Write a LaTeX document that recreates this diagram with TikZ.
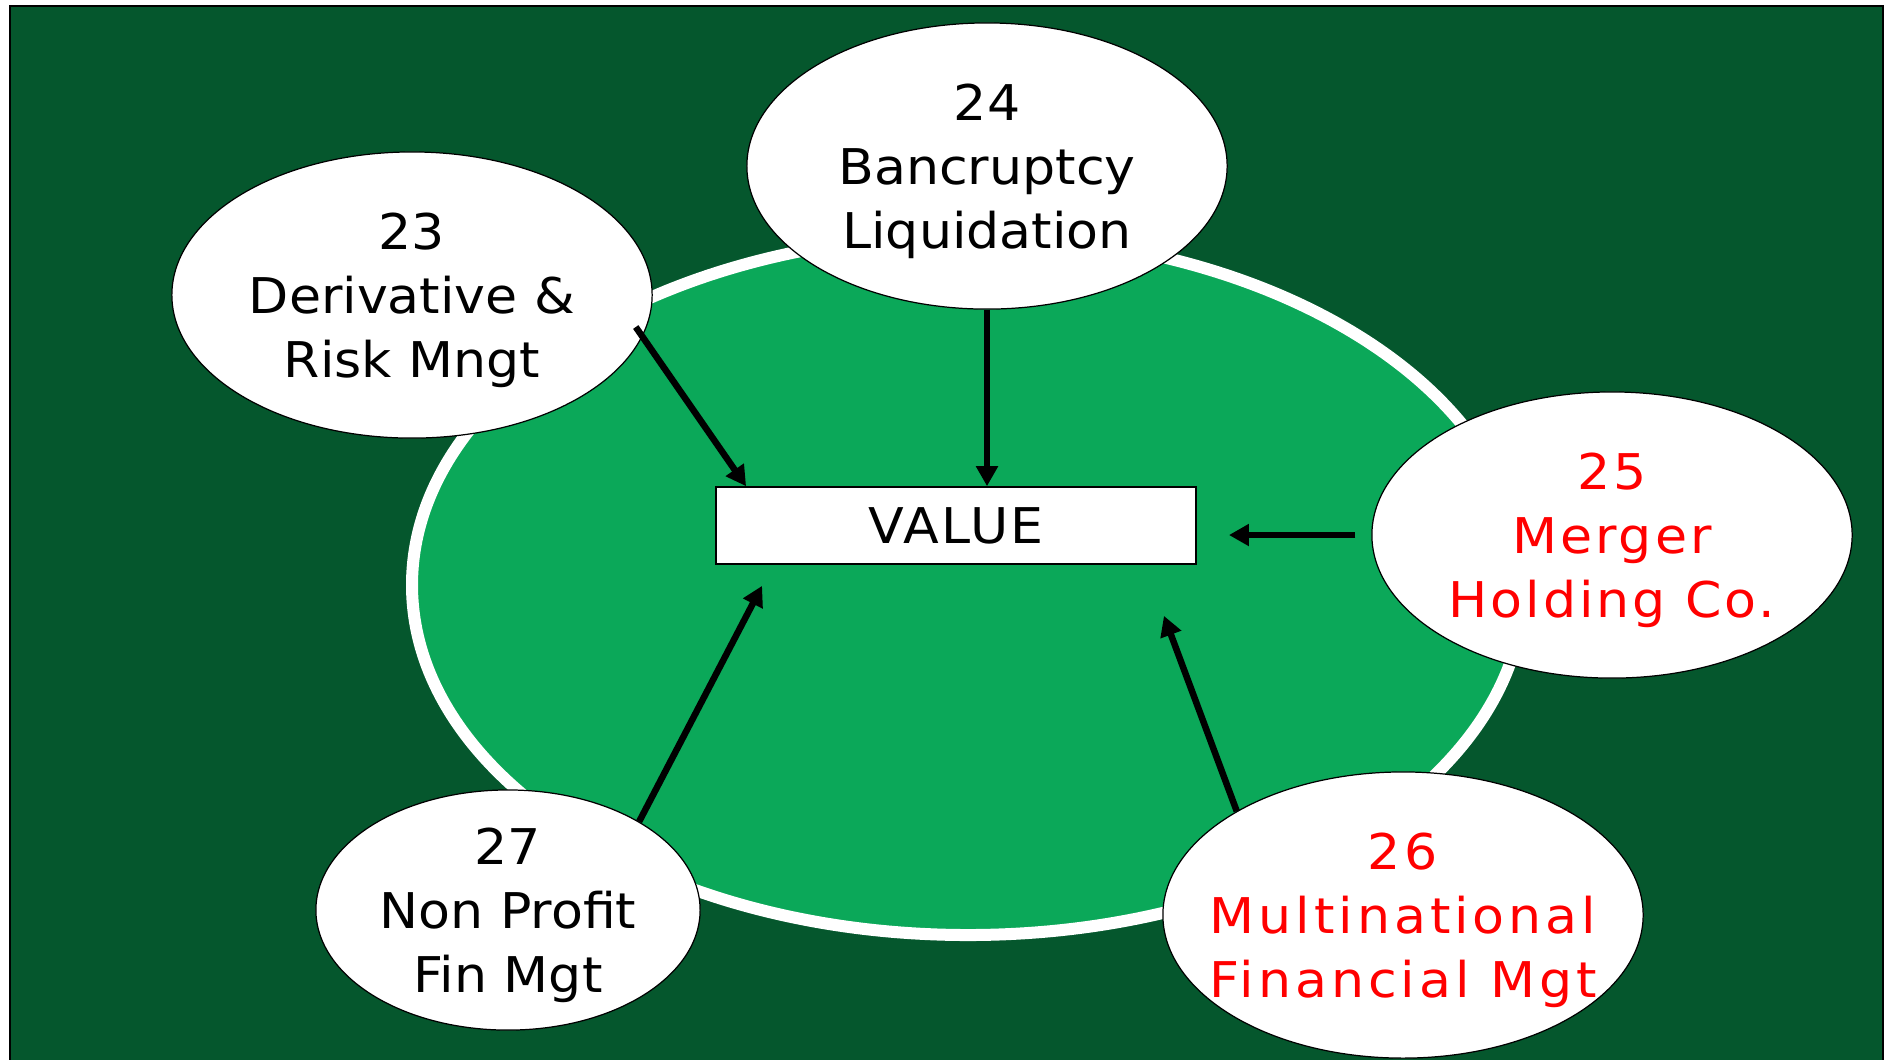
\documentclass[tikz,border=0pt]{standalone}
\usepackage{fontspec}
\setmainfont{DejaVu Sans}[FakeStretch=1.06]
\usetikzlibrary{shapes, arrows.meta}
\definecolor{darkbg}{RGB}{5,87,45}
\definecolor{lightbg}{RGB}{11,168,89}
\tikzset{
  topic/.style={draw, ellipse, fill=white, line width=0.35pt, inner xsep=-0.3cm, inner ysep=-0.1cm, align=center, text depth=-0.6pt, minimum width=4.8cm, minimum height=2.86cm, font=\fontsize{14pt}{18.2pt}\selectfont},
  newtopic/.style={topic, text=red, font=\fontsize{14pt}{18.2pt}\selectfont\addfontfeatures{LetterSpace=6}},
  arr/.style={-{Triangle[length=0.2cm,width=0.21cm]}, line width=0.065cm}
}
\begin{document}
\begin{tikzpicture}[x=0.01cm, y=-0.01cm]
\useasboundingbox (0,0) rectangle (1886,1059);
% Background
\draw[fill=darkbg] (10,6) rectangle (1883,1070);
\draw[fill=lightbg, draw=white, line width=0.12cm] (968,585) ellipse [x radius=556, y radius=350];
% Value box
\node[draw, fill=white, line width=0.45pt, minimum width=4.8cm, minimum height=0.77cm, inner sep=0, font=\fontsize{14pt}{18.2pt}\selectfont\addfontfeatures{LetterSpace=5}] (value) at (956,525.5) {VALUE};
% Topics
\node[topic] (n23) at (412,295) {23\\Derivative \&\\Risk Mngt};
\node[topic] (n24) at (987,166) {24\\Bancruptcy\\Liquidation};
\node[newtopic] (n25) at (1612,535) {25\\Merger\\Holding Co.};
\node[newtopic, font=\fontsize{14pt}{18.2pt}\selectfont\addfontfeatures{LetterSpace=8}] (n26) at (1403,915) {26\\Multinational\\Financial Mgt};
\node[topic, minimum width=3.84cm, minimum height=2.4cm] (n27) at (508,910) {27\\Non Profit\\Fin Mgt};
% Arrows
\draw[arr] ([shift={(-17,32)}]n23.east) -- ([shift={(31,0)}]value.north west);
\draw[arr] (n24.south) -- (n24.south |- value.north);
\draw[arr, shorten <=0.16cm, shorten >=0.32cm] (n25.west) -- (n25.west -| value.east);
\draw[arr] (n26.148) -- ([shift={(-33,51)}]value.south east);
\draw[arr] (n27.34) -- ([shift={(47,21)}]value.south west);
\end{tikzpicture}
\end{document}
